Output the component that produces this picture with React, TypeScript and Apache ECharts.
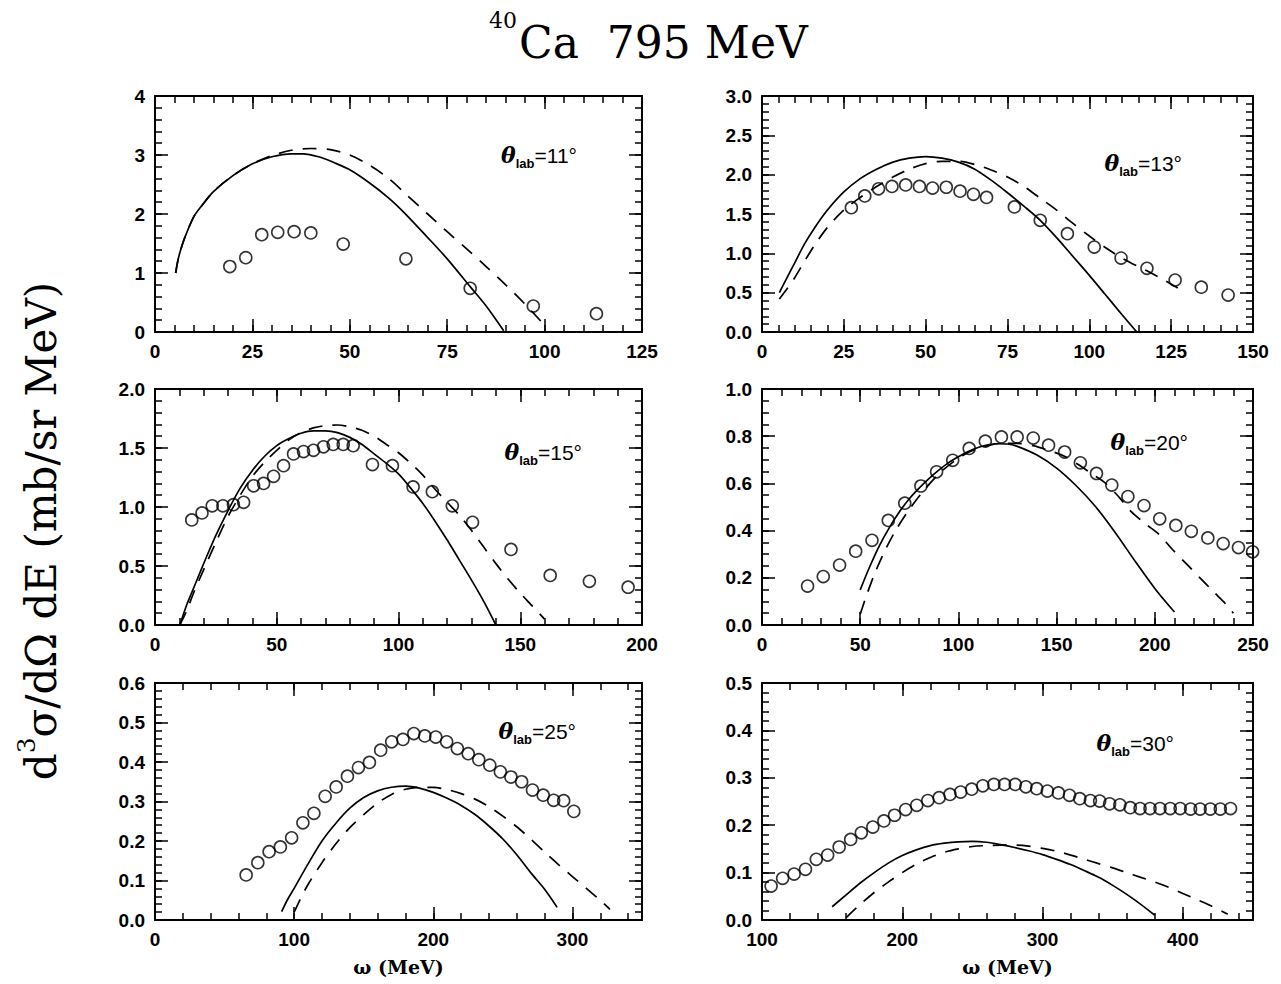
import React, { useEffect, useRef } from 'react';
import * as echarts from 'echarts';

type Pts = [number, number][];

// ---------- data ----------
const angleLabels = ['11', '13', '15', '20', '25', '30'];
const xMins = [0, 0, 0, 0, 0, 100];
const xMaxs = [125, 150, 200, 250, 350, 450];
const xMajors = [25, 25, 50, 50, 100, 100];
const xMinors = [5, 5, 10, 10, 20, 20];
const yMaxs = [4, 3, 2, 1, 0.6, 0.5];
const yMajors = [1, 0.5, 0.5, 0.2, 0.1, 0.1];
const yMinors = [0.2, 0.1, 0.1, 0.05, 0.02, 0.02];
const yDecimals = [0, 1, 1, 1, 1, 1];
const xAxisTitle = 'ω (MeV)';

// θ = 11°
const exp11: Pts = [[19.2, 1.11], [23.3, 1.26], [27.4, 1.65], [31.5, 1.69], [35.7, 1.7], [40.0, 1.68], [48.3, 1.49], [64.4, 1.24], [80.9, 0.74], [97.1, 0.44], [113.3, 0.31]];
const solid11: Pts = [[5.3, 1.0], [6, 1.25], [7, 1.48], [8, 1.66], [10, 1.96], [12, 2.14], [15, 2.38], [20, 2.65], [25, 2.85], [30, 2.97], [35, 3.02], [38, 3.02], [42, 2.97], [46, 2.87], [50, 2.75], [55, 2.53], [60, 2.27], [64, 2.02], [70, 1.6], [75, 1.24], [81, 0.76], [85, 0.44], [89.5, 0.02]];
const dashed11: Pts = [[5.3, 1.0], [6, 1.25], [7, 1.48], [8, 1.66], [10, 1.96], [12, 2.14], [15, 2.38], [20, 2.65], [25, 2.85], [30, 2.99], [35, 3.08], [40, 3.11], [45, 3.09], [50, 3.0], [55, 2.83], [60, 2.6], [65, 2.3], [70, 2.0], [75, 1.7], [80, 1.41], [85, 1.11], [90, 0.8], [95, 0.47], [99.5, 0.15]];

// θ = 13°
const exp13: Pts = [[27.3, 1.58], [31.4, 1.73], [35.6, 1.82], [39.7, 1.85], [43.9, 1.87], [48.1, 1.85], [52.1, 1.83], [56.3, 1.84], [60.5, 1.79], [64.6, 1.75], [68.6, 1.71], [77.1, 1.59], [85.0, 1.42], [93.3, 1.25], [101.5, 1.08], [109.7, 0.94], [117.6, 0.81], [126.2, 0.66], [134.2, 0.57], [142.4, 0.47]];
const solid13: Pts = [[5.3, 0.5], [8, 0.72], [10, 0.88], [13, 1.12], [16, 1.32], [20, 1.55], [25, 1.78], [30, 1.95], [35, 2.07], [40, 2.16], [45, 2.21], [50, 2.23], [55, 2.21], [60, 2.16], [65, 2.07], [70, 1.93], [75, 1.77], [80, 1.6], [85, 1.42], [90, 1.2], [95, 0.96], [100, 0.72], [105, 0.47], [110, 0.22], [114.5, 0.0]];
const dashed13: Pts = [[5.3, 0.42], [8, 0.57], [10, 0.69], [13, 0.9], [16, 1.1], [20, 1.33], [25, 1.55], [30, 1.71], [35, 1.85], [40, 1.97], [45, 2.07], [50, 2.14], [55, 2.17], [60, 2.17], [65, 2.13], [70, 2.06], [75, 1.97], [80, 1.85], [85, 1.7], [90, 1.55], [95, 1.38], [100, 1.22], [105, 1.07], [110, 0.94], [115, 0.83], [118, 0.77], [122, 0.68], [127, 0.56]];

// θ = 15°
const exp15: Pts = [[15.1, 0.89], [19.3, 0.95], [23.5, 1.01], [27.9, 1.01], [32.2, 1.02], [36.4, 1.04], [40.5, 1.18], [44.6, 1.2], [48.7, 1.26], [52.8, 1.35], [56.9, 1.45], [61.0, 1.47], [65.1, 1.48], [69.2, 1.51], [73.2, 1.53], [77.3, 1.53], [81.4, 1.52], [89.3, 1.36], [97.5, 1.35], [106.0, 1.17], [113.9, 1.13], [122.1, 1.01], [130.4, 0.87], [146.2, 0.64], [162.3, 0.42], [178.4, 0.37], [194.3, 0.32]];
const solid15: Pts = [[10.2, 0], [13, 0.17], [15, 0.27], [18, 0.42], [21, 0.57], [25, 0.76], [30, 0.97], [35, 1.16], [40, 1.31], [45, 1.43], [50, 1.52], [55, 1.58], [60, 1.625], [65, 1.645], [70, 1.645], [75, 1.63], [80, 1.59], [85, 1.53], [90, 1.45], [95, 1.37], [100, 1.28], [105, 1.16], [110, 1.03], [115, 0.88], [120, 0.72], [125, 0.55], [130, 0.38], [135, 0.2], [140, 0]];
const dashed15: Pts = [[10.2, 0], [13, 0.12], [16, 0.28], [20, 0.47], [25, 0.7], [30, 0.92], [35, 1.1], [40, 1.26], [45, 1.38], [50, 1.48], [55, 1.57], [60, 1.63], [65, 1.67], [70, 1.69], [75, 1.695], [80, 1.68], [85, 1.65], [90, 1.6], [95, 1.53], [100, 1.46], [105, 1.37], [110, 1.27], [115, 1.15], [120, 1.04], [125, 0.93], [130, 0.8], [135, 0.66], [140, 0.52], [145, 0.39], [150, 0.27], [155, 0.16], [160, 0.05]];

// θ = 20°
const exp20: Pts = [[23.2, 0.165], [31.2, 0.205], [39.5, 0.254], [47.7, 0.313], [56.0, 0.359], [64.3, 0.443], [72.7, 0.516], [80.9, 0.589], [88.9, 0.649], [97.1, 0.698], [105.5, 0.748], [113.7, 0.779], [121.9, 0.797], [129.9, 0.797], [138.1, 0.792], [145.9, 0.762], [154.1, 0.733], [162.1, 0.687], [170.3, 0.642], [178.1, 0.593], [186.3, 0.544], [194.5, 0.506], [202.5, 0.45], [210.7, 0.422], [218.6, 0.397], [227.0, 0.369], [234.8, 0.345], [242.6, 0.328], [249.8, 0.31]];
const solid20: Pts = [[50, 0.149], [55, 0.25], [60, 0.34], [65, 0.415], [70, 0.48], [75, 0.535], [80, 0.58], [85, 0.62], [90, 0.656], [95, 0.688], [100, 0.713], [105, 0.735], [110, 0.752], [115, 0.763], [120, 0.768], [125, 0.767], [130, 0.757], [140, 0.72], [150, 0.665], [160, 0.59], [170, 0.5], [180, 0.39], [190, 0.27], [200, 0.155], [210, 0.055]];
const dashed20: Pts = [[50, 0.046], [53, 0.12], [57, 0.21], [62, 0.305], [68, 0.4], [75, 0.49], [82, 0.566], [90, 0.64], [98, 0.695], [106, 0.735], [114, 0.758], [122, 0.77], [130, 0.77], [138, 0.76], [146, 0.74], [154, 0.715], [161, 0.68], [168, 0.64], [175, 0.6], [182, 0.54], [188, 0.48], [195, 0.43], [202, 0.385], [209, 0.32], [216, 0.26], [223, 0.2], [230, 0.14], [236, 0.09], [240, 0.05]];

// θ = 25°
const exp25: Pts = [[65.5, 0.114], [73.9, 0.145], [82.0, 0.173], [90.1, 0.185], [98.2, 0.208], [106.3, 0.246], [114.2, 0.27], [122.3, 0.313], [130.2, 0.337], [138.3, 0.364], [146.2, 0.386], [154.1, 0.399], [162.2, 0.43], [170.1, 0.451], [178.2, 0.457], [186.0, 0.472], [193.9, 0.466], [201.8, 0.463], [209.6, 0.451], [217.3, 0.434], [225.1, 0.421], [232.7, 0.406], [240.6, 0.392], [248.2, 0.375], [255.8, 0.362], [263.5, 0.35], [271.3, 0.329], [279.0, 0.316], [286.5, 0.303], [293.7, 0.302], [301.0, 0.275]];
const solid25: Pts = [[91, 0.021], [95, 0.05], [100, 0.08], [110, 0.142], [120, 0.2], [130, 0.245], [140, 0.283], [150, 0.31], [160, 0.327], [170, 0.336], [180, 0.339], [190, 0.334], [200, 0.323], [210, 0.308], [220, 0.29], [230, 0.267], [240, 0.238], [250, 0.205], [260, 0.165], [270, 0.12], [280, 0.078], [289, 0.032]];
const dashed25: Pts = [[100, 0.02], [105, 0.057], [110, 0.09], [120, 0.145], [130, 0.193], [140, 0.234], [150, 0.267], [160, 0.296], [170, 0.318], [180, 0.331], [190, 0.336], [200, 0.336], [210, 0.33], [220, 0.32], [230, 0.306], [240, 0.287], [250, 0.263], [260, 0.236], [270, 0.205], [280, 0.172], [290, 0.14], [300, 0.11], [310, 0.08], [320, 0.05], [327, 0.027]];

// θ = 30°
const exp30: Pts = [[106.5, 0.0715], [114.7, 0.088], [122.9, 0.097], [131.0, 0.107], [138.7, 0.128], [146.8, 0.137], [155.0, 0.154], [163.2, 0.17], [170.8, 0.184], [179.0, 0.196], [186.9, 0.209], [194.5, 0.221], [202.4, 0.233], [210.3, 0.242], [218.2, 0.252], [226.3, 0.258], [234.0, 0.265], [241.6, 0.27], [249.5, 0.276], [257.4, 0.283], [265.3, 0.286], [272.9, 0.286], [280.5, 0.286], [288.1, 0.281], [295.8, 0.277], [303.4, 0.272], [311.3, 0.268], [319.2, 0.263], [326.5, 0.256], [334.1, 0.252], [340.7, 0.251], [347.8, 0.245], [355.1, 0.243], [362.5, 0.237], [369.5, 0.235], [376.6, 0.235], [383.7, 0.235], [391.0, 0.235], [398.1, 0.235], [405.5, 0.234], [412.3, 0.234], [419.6, 0.234], [426.7, 0.234], [434.0, 0.235]];
const solid30: Pts = [[150, 0.028], [160, 0.053], [170, 0.078], [180, 0.1], [190, 0.12], [200, 0.136], [210, 0.148], [220, 0.157], [230, 0.162], [240, 0.165], [250, 0.166], [260, 0.164], [270, 0.159], [280, 0.153], [290, 0.146], [300, 0.138], [310, 0.128], [320, 0.117], [330, 0.104], [340, 0.09], [350, 0.073], [360, 0.054], [370, 0.033], [380, 0.01]];
const dashed30: Pts = [[160, 0.005], [170, 0.033], [180, 0.058], [190, 0.08], [200, 0.1], [210, 0.118], [220, 0.132], [230, 0.143], [240, 0.15], [250, 0.155], [260, 0.157], [270, 0.158], [280, 0.158], [290, 0.156], [300, 0.151], [310, 0.145], [320, 0.137], [330, 0.128], [340, 0.119], [350, 0.11], [360, 0.1], [370, 0.09], [380, 0.08], [390, 0.069], [400, 0.056], [410, 0.043], [420, 0.03], [432, 0.012]];

const expData = [exp11, exp13, exp15, exp20, exp25, exp30];
const solidData = [solid11, solid13, solid15, solid20, solid25, solid30];
const dashedData = [dashed11, dashed13, dashed15, dashed20, dashed25, dashed30];

// ---------- layout ----------
const GRIDS = [
  { left: 155, top: 96, width: 487, height: 236 },
  { left: 762, top: 96, width: 491, height: 236 },
  { left: 155, top: 389, width: 487, height: 236 },
  { left: 762, top: 389, width: 491, height: 236 },
  { left: 155, top: 683, width: 487, height: 237 },
  { left: 762, top: 683, width: 491, height: 237 },
];
const ANGLE_POS: [number, number][] = [[577, 155], [1182, 163], [582, 452], [1188, 442], [576, 731], [1174, 743]];

const isMult = (v: number, step: number) => Math.abs(v / step - Math.round(v / step)) < 1e-6;

function buildOption() {
  const xAxis: any[] = [];
  const yAxis: any[] = [];
  const series: any[] = [];
  const majorTick = { show: true, inside: true, length: 13, lineStyle: { color: '#000', width: 1.5 } };
  const minorTick = { show: true, inside: true, length: 7, lineStyle: { color: '#000', width: 1.5 } };
  const frameLine = { show: true, onZero: false, lineStyle: { color: '#000', width: 2 } };
  const noLine = { show: false, onZero: false };
  const labelStyle = { show: true, margin: 10, color: '#000', fontSize: 19, fontWeight: 'bold', fontFamily: 'Liberation Sans, Arial, sans-serif' };

  for (let i = 0; i < 6; i++) {
    const xc = { type: 'value', gridIndex: i, min: xMins[i], max: xMaxs[i], splitLine: { show: false } };
    const yc = { type: 'value', gridIndex: i, min: 0, max: yMaxs[i], splitLine: { show: false } };
    const nameOpt = i >= 4 ? {
      name: xAxisTitle, nameLocation: 'middle', nameGap: 37,
      nameTextStyle: { fontFamily: 'DejaVu Serif', fontWeight: 'bold', fontSize: 19, color: '#000' },
    } : {};
    xAxis.push({ ...xc, ...nameOpt, position: 'bottom', interval: xMajors[i], axisLine: frameLine, axisTick: majorTick,
      axisLabel: { ...labelStyle, formatter: (v: number) => (isMult(v, xMajors[i]) ? String(Math.round(v)) : '') } });
    xAxis.push({ ...xc, position: 'bottom', interval: xMinors[i], axisLine: noLine, axisTick: minorTick, axisLabel: { show: false } });
    xAxis.push({ ...xc, position: 'top', interval: xMajors[i], axisLine: frameLine, axisTick: majorTick, axisLabel: { show: false } });
    xAxis.push({ ...xc, position: 'top', interval: xMinors[i], axisLine: noLine, axisTick: minorTick, axisLabel: { show: false } });

    yAxis.push({ ...yc, position: 'left', interval: yMajors[i], axisLine: frameLine, axisTick: majorTick,
      axisLabel: { ...labelStyle, formatter: (v: number) => (isMult(v, yMajors[i]) ? v.toFixed(yDecimals[i]) : '') } });
    yAxis.push({ ...yc, position: 'left', interval: yMinors[i], axisLine: noLine, axisTick: minorTick, axisLabel: { show: false } });
    yAxis.push({ ...yc, position: 'right', interval: yMajors[i], axisLine: frameLine, axisTick: majorTick, axisLabel: { show: false } });
    yAxis.push({ ...yc, position: 'right', interval: yMinors[i], axisLine: noLine, axisTick: minorTick, axisLabel: { show: false } });

    const xi = i * 4;
    const yi = i * 4;
    series.push({
      type: 'line', xAxisIndex: xi, yAxisIndex: yi, data: solidData[i], showSymbol: false, symbol: 'none',
      smooth: 0.3, lineStyle: { color: '#000', width: 1.7, type: 'solid' }, z: 2,
    });
    series.push({
      type: 'line', xAxisIndex: xi, yAxisIndex: yi, data: dashedData[i], showSymbol: false, symbol: 'none',
      smooth: 0.3, lineStyle: { color: '#000', width: 1.7, type: [14, 10] }, z: 2,
    });
    series.push({
      type: 'scatter', xAxisIndex: xi, yAxisIndex: yi, data: expData[i], symbol: 'circle', symbolSize: 12,
      itemStyle: { color: 'rgba(255,255,255,0)', borderColor: '#000', borderWidth: 1.6 }, z: 3,
    });
  }

  const graphic: any[] = [
    { type: 'text', x: 489, y: 20, style: { text: '40', fontSize: 22, fontFamily: 'DejaVu Serif', fill: '#000', align: 'left', verticalAlign: 'middle' } },
    { type: 'text', x: 519, y: 42, style: { text: 'Ca  795 MeV', fontSize: 44, fontFamily: 'DejaVu Serif', fill: '#000', align: 'left', verticalAlign: 'middle' } },
    {
      type: 'text', x: 38, y: 531, rotation: Math.PI / 2,
      style: {
        text: '{a|d}{b|3}{a|σ/dΩ dE (mb/sr MeV)}',
        align: 'center', verticalAlign: 'middle', fill: '#000',
        rich: {
          a: { fontSize: 42, fontFamily: 'DejaVu Serif', fill: '#000', lineHeight: 48, verticalAlign: 'bottom' },
          b: { fontSize: 25, fontFamily: 'DejaVu Serif', fill: '#000', lineHeight: 48, verticalAlign: 'top' },
        },
      },
    },
  ];
  for (let i = 0; i < 6; i++) {
    graphic.push({
      type: 'text', x: ANGLE_POS[i][0], y: ANGLE_POS[i][1],
      style: {
        text: `{t|θ}{s|lab}{n|=${angleLabels[i]}°}`,
        align: 'right', verticalAlign: 'middle', fill: '#000',
        rich: {
          t: { fontSize: 22, fontFamily: 'DejaVu Serif', fontStyle: 'italic', fontWeight: 'bold', fill: '#000', lineHeight: 30, verticalAlign: 'middle' },
          s: { fontSize: 13, fontFamily: 'Liberation Sans', fontWeight: 'bold', fill: '#000', lineHeight: 30, verticalAlign: 'bottom' },
          n: { fontSize: 21, fontFamily: 'Liberation Sans', fill: '#000', lineHeight: 30, verticalAlign: 'middle' },
        },
      },
    });
  }

  return {
    animation: false,
    backgroundColor: '#fff',
    grid: GRIDS.map((g) => ({ ...g, containLabel: false })),
    xAxis,
    yAxis,
    series,
    graphic,
  };
}

export default function App() {
  const ref = useRef<HTMLDivElement>(null);
  useEffect(() => {
    if (!ref.current) return;
    const chart = echarts.init(ref.current, undefined, { renderer: 'svg' });
    chart.setOption(buildOption() as any);
    return () => chart.dispose();
  }, []);
  return <div ref={ref} style={{ position: 'fixed', left: 0, top: 0, width: 1281, height: 984, background: '#fff' }} />;
}
